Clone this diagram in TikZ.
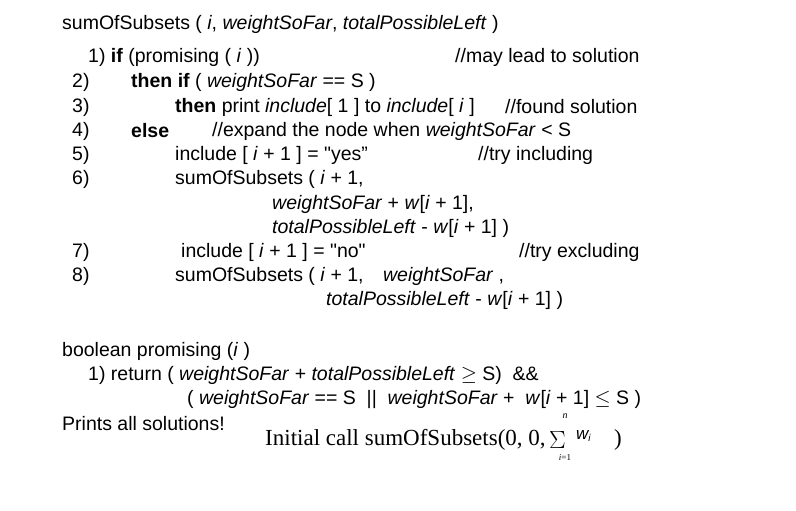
\documentclass[tikz,border=0pt]{standalone}
\usepackage{fontspec}
\setmainfont{Liberation Sans}
\newfontfamily\serifrm{Liberation Serif}
\newcommand{\wsf}{\textit{weightSoFar}}
\newcommand{\tpl}{\textit{totalPossibleLeft}}
\begin{document}
\begin{tikzpicture}[x=1pt,y=-1pt,
  ln/.style={anchor=west,inner sep=0pt,font=\fontsize{19.5}{22}\selectfont},
  tiny/.style={inner sep=0pt,font=\serifrm\itshape\fontsize{10}{12}\selectfont}]
\useasboundingbox (0,0) rectangle (796,511);

\node[ln] (head) at (62,24) {sumOfSubsets ( \textit{i}, \wsf, \tpl\ )};
\node[ln] (l1) at (88,57) {1) \textbf{if} (promising ( \textit{i} ))};
\node[ln] (c1) at (455,57) {//may lead to solution};
\node[ln] (n2) at (72,82) {2)};
\node[ln] (l2) at (131,82) {\textbf{then if} ( \wsf\ == S )};
\node[ln] (n3) at (72,107) {3)};
\node[ln] (l3) at (175,107) {\textbf{then} print \textit{include}[ 1 ] to \textit{include}[ \textit{i} ]};
\node[ln] (c3) at (505,107) {//found solution};
\node[ln] (n4) at (72,131) {4)};
\node[ln] (l4) at (131,131) {\textbf{else}};
\node[ln] (c4) at (212,131) {//expand the node when \wsf\ < S};
\node[ln] (n5) at (72,155) {5)};
\node[ln] (l5) at (175,155) {include [ \textit{i} + 1 ] = \textquotedbl yes”};
\node[ln] (c5) at (478,155) {//try including};
\node[ln] (n6) at (72,179) {6)};
\node[ln] (l6) at (175,179) {sumOfSubsets ( \textit{i} + 1,};
\node[ln] (l6b) at (272,204) {\wsf\ + \textit{w}[\textit{i} + 1],};
\node[ln] (l6c) at (272,228) {\tpl\ - \textit{w}[\textit{i} + 1] )};
\node[ln] (n7) at (72,252) {7)};
\node[ln] (l7) at (181,252) {include [ \textit{i} + 1 ] = \textquotedbl no\textquotedbl};
\node[ln] (c7) at (519,252) {//try excluding};
\node[ln] (n8) at (72,276) {8)};
\node[ln] (l8) at (175,276) {sumOfSubsets ( \textit{i} + 1,\quad \wsf\ ,};
\node[ln] (l8b) at (326,300) {\tpl\ - \textit{w}[\textit{i} + 1] )};

\node[ln] (prom) at (62,351) {boolean promising (\textit{i} )};
\node[ln] (r1) at (88,375) {1) return ( \wsf\ + \tpl\ $\geq$ S)\ \ \&\&};
\node[ln] (r2) at (187,399) {( \wsf\ == S\ \ ||\ \ \wsf\ +\ \ \textit{w}[\textit{i} + 1] $\leq$ S )};
\node[ln] (prints) at (62,424) {Prints all solutions!};
\node[anchor=west,inner sep=0pt,font=\serifrm\fontsize{23}{26}\selectfont] (init) at (265,440)
  {Initial call sumOfSubsets(0, 0,};
\node[anchor=west,inner sep=0pt,font=\fontsize{28}{30}\selectfont] (sum) at (549,440) {$\Sigma$};
\node[tiny] (sumtop) at (565,416) {n};
\node[tiny,font=\serifrm\fontsize{9}{10}\selectfont] (sumbot) at (565,458) {\textit{i}=1};
\node[anchor=west,inner sep=0pt,font=\fontsize{17}{20}\selectfont\itshape] (wi) at (576,436) {w\textsubscript{\fontsize{10}{12}\selectfont i}};
\node[anchor=west,inner sep=0pt,font=\serifrm\fontsize{23}{26}\selectfont] (close) at (614,440) {)};
\end{tikzpicture}
\end{document}
